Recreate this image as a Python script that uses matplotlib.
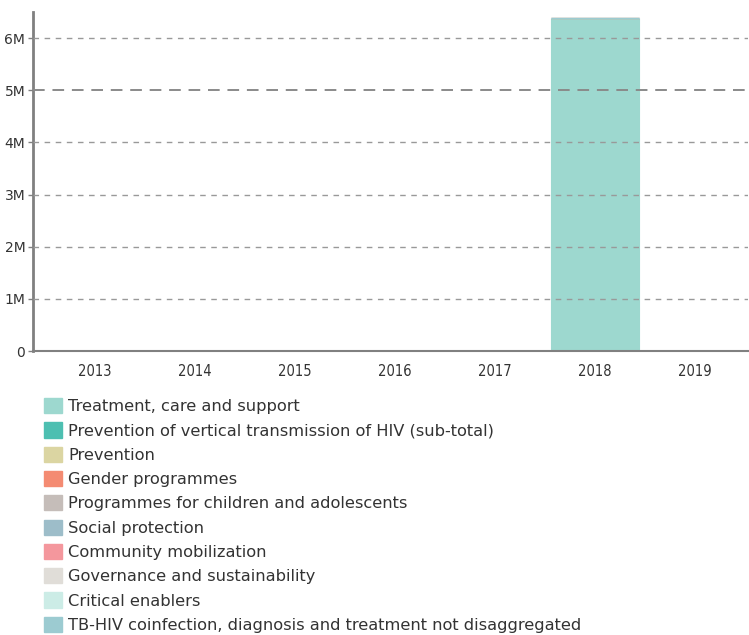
import matplotlib
matplotlib.use("Agg")
import matplotlib.pyplot as plt
from matplotlib.patches import Patch
from matplotlib.ticker import FuncFormatter
import numpy as np

years = ["2013", "2014", "2015", "2016", "2017", "2018", "2019"]

categories = [
    "Treatment, care and support",
    "Prevention of vertical transmission of HIV (sub-total)",
    "Prevention",
    "Gender programmes",
    "Programmes for children and adolescents",
    "Social protection",
    "Community mobilization",
    "Governance and sustainability",
    "Critical enablers",
    "TB-HIV coinfection, diagnosis and treatment not disaggregated",
]

colors = ["#9dd8cf", "#4dbfb1", "#dbd5a2", "#f48b72", "#c5bdb9",
          "#9dbdc9", "#f4979d", "#e0ddd8", "#ccece6", "#9ccbd1"]

treatment = [0, 0, 0, 0, 0, 6380000, 0]
pmtct = [0, 0, 0, 0, 0, 0, 0]
prevention = [0, 0, 0, 0, 0, 0, 0]
gender = [0, 0, 0, 0, 0, 0, 0]
children = [0, 0, 0, 0, 0, 0, 0]
social = [0, 0, 0, 0, 0, 0, 0]
community = [0, 0, 0, 0, 0, 0, 0]
governance = [0, 0, 0, 0, 0, 0, 0]
enablers = [0, 0, 0, 0, 0, 0, 0]
tbhiv = [0, 0, 0, 0, 0, 0, 0]

series = [treatment, pmtct, prevention, gender, children,
          social, community, governance, enablers, tbhiv]

fig = plt.figure(figsize=(7.49, 6.35), dpi=100)
ax = fig.add_axes([0.044, 0.4472, 0.9547, 0.534])

x = np.arange(len(years))
bottom = np.zeros(len(years))
for vals, col in zip(series, colors):
    v = np.array(vals, dtype=float)
    ax.bar(x, v, width=0.88, bottom=bottom, color=col, edgecolor=col,
           linewidth=0.8, zorder=2)
    bottom += v

ax.set_xlim(-0.62, 6.53)
ax.set_ylim(0, 6.5e6)
ax.set_xticks(x)
ax.set_xticklabels(years)
ax.set_yticks(np.arange(0, 7e6, 1e6))
ax.yaxis.set_major_formatter(FuncFormatter(
    lambda v, p: "0" if v == 0 else f"{int(round(v / 1e6))}M"))

for yv in range(1, 7):
    if yv == 5:
        ax.axhline(yv * 1e6, color="#8a8a8a", lw=1.4, ls=(0, (6, 4)), zorder=3)
    else:
        ax.axhline(yv * 1e6, color="#999999", lw=1.0, ls=(0, (4, 4)), zorder=3)

for s in ["top", "right"]:
    ax.spines[s].set_visible(False)
ax.spines["left"].set_color("#808080")
ax.spines["left"].set_linewidth(2)
ax.spines["bottom"].set_color("#808080")
ax.spines["bottom"].set_linewidth(1.5)

ax.tick_params(axis="y", length=3.5, width=1, color="#808080",
               labelsize=10, labelcolor="#333333", pad=2)
ax.tick_params(axis="x", length=0, labelsize=10.5, labelcolor="#333333", pad=9)
for lab in ax.get_xticklabels():
    lab.set_fontstretch("condensed")

handles = [Patch(facecolor=c, edgecolor=c) for c in colors]
fig.legend(handles, categories, loc="upper left",
           bbox_to_anchor=(0.0587, 0.373), frameon=False,
           fontsize=11.7, labelspacing=0.505, handlelength=1.1,
           handleheight=1.05, handletextpad=0.38, borderaxespad=0,
           borderpad=0, labelcolor="#333333")

fig.savefig("out.png", dpi=100)
